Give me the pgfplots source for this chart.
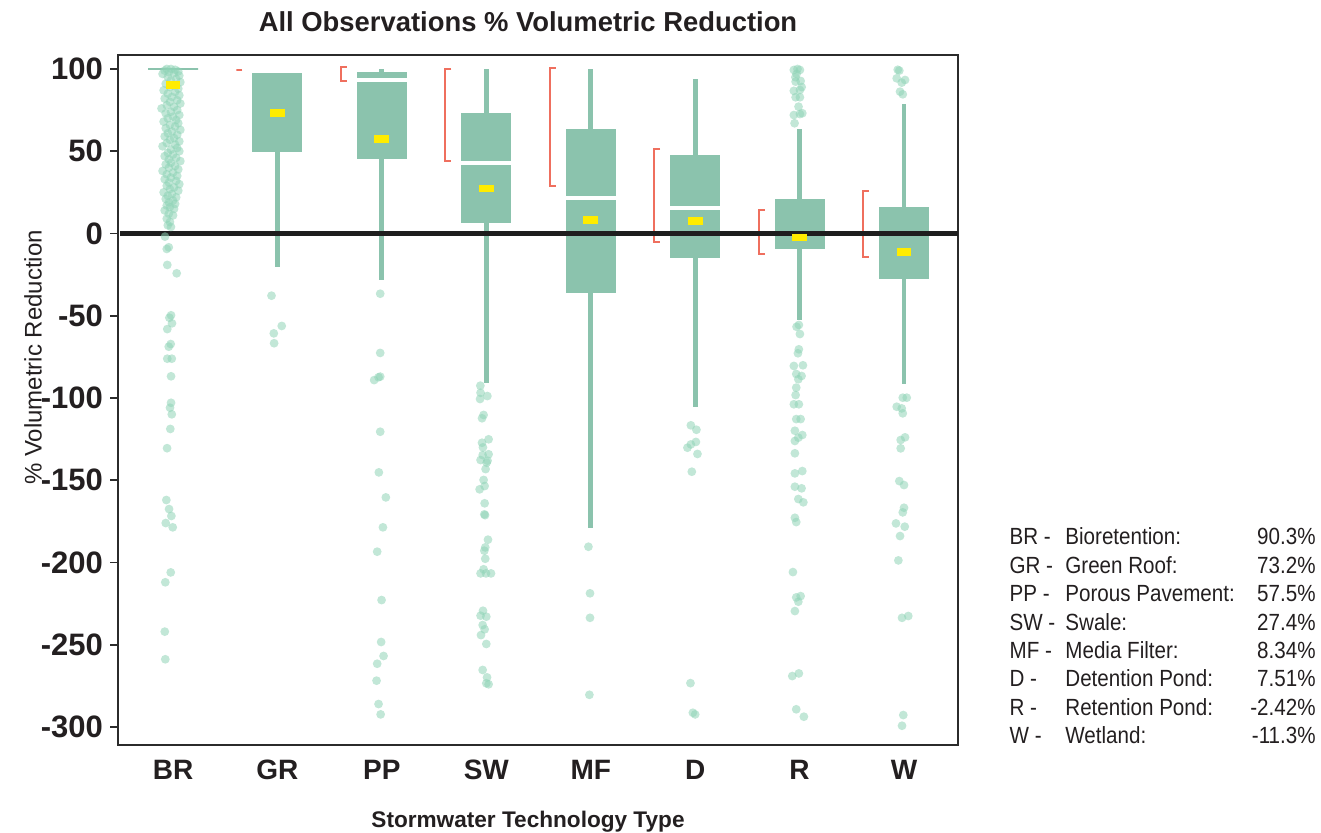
\documentclass[border=0pt]{standalone}
\usepackage{pgfplots}
\pgfplotsset{compat=1.18}
\usepgfplotslibrary{statistics}
\usepackage{fontspec}
\setmainfont{Liberation Sans}
\newfontfamily\condfont[FakeStretch=0.88]{Liberation Sans}
\definecolor{boxgreen}{HTML}{8BC3AD}
\definecolor{ptgreen}{HTML}{8FD3B6}
\definecolor{meanyellow}{HTML}{FFEC00}
\definecolor{cired}{HTML}{EF6F5E}
\definecolor{axisgray}{HTML}{2B2B2B}
\definecolor{zeroline}{HTML}{1E1E1E}
\definecolor{txt}{HTML}{231F20}
\pgfplotsset{
  boxplot/draw direction=y,
  boxplot/every box/.style={draw=none, fill=boxgreen},
  boxplot/every whisker/.style={draw=boxgreen, line width=2.4pt},
  boxplot/every median/.style={draw=white, line width=2pt},
}
\begin{document}
\begin{tikzpicture}
\path[use as bounding box] (0pt,0pt) rectangle (660.5pt,416.5pt);
\begin{axis}[
  at={(59pt,44pt)}, anchor=south west,
  scale only axis, width=420pt, height=345pt,
  xmin=-0.527, xmax=7.517, ymin=-310.9, ymax=108.5,
  axis line style={draw=axisgray, line width=0.8pt},
  xtick={0,1,2,3,4,5,6,7},
  xticklabels={BR,GR,PP,SW,MF,D,R,W},
  x tick style={draw=none},
  ytick={100,50,0,-50,-100,-150,-200,-250,-300},
  yticklabels={100,50,0,-50,-100,-150,-200,-250,-300},
  y tick style={draw=axisgray, line width=0.8pt},
  tick align=outside, major tick length=4pt,
  ytick pos=left, xtick pos=bottom,
  xticklabel style={font=\fontsize{14}{16}\selectfont\bfseries, text=txt},
  yticklabel style={font=\fontsize{15.5}{17}\selectfont\bfseries, text=txt},
]
% boxes
\addplot[boxplot prepared={draw position=0, lower whisker=100, lower quartile=100, median=100, upper quartile=100, upper whisker=100, box extend=0.479, whisker extend=0, every box/.style={draw=boxgreen, line width=1.3pt}, every median/.style={draw=none}}] coordinates {};
\addplot[boxplot prepared={draw position=1, lower whisker=-20.2, lower quartile=49.7, median=97.6, upper quartile=97.6, upper whisker=97.6, box extend=0.479, whisker extend=0, every median/.style={draw=none}}] coordinates {};
\addplot[boxplot prepared={draw position=2, lower whisker=-28.3, lower quartile=45.5, median=93, upper quartile=98.2, upper whisker=100, box extend=0.479, whisker extend=0}] coordinates {};
\addplot[boxplot prepared={draw position=3, lower whisker=-91, lower quartile=6.6, median=42.9, upper quartile=73.2, upper whisker=100, box extend=0.479, whisker extend=0}] coordinates {};
\addplot[boxplot prepared={draw position=4, lower whisker=-178.8, lower quartile=-36, median=21.4, upper quartile=63.5, upper whisker=100, box extend=0.479, whisker extend=0}] coordinates {};
\addplot[boxplot prepared={draw position=5, lower whisker=-105.7, lower quartile=-14.7, median=15.3, upper quartile=47.7, upper whisker=94.1, box extend=0.479, whisker extend=0}] coordinates {};
\addplot[boxplot prepared={draw position=6, lower whisker=-52.6, lower quartile=-9.4, median=0, upper quartile=21, upper whisker=63.5, box extend=0.479, whisker extend=0}] coordinates {};
\addplot[boxplot prepared={draw position=7, lower whisker=-91.5, lower quartile=-27.5, median=0, upper quartile=16.1, upper whisker=78.5, box extend=0.479, whisker extend=0}] coordinates {};
% confidence brackets
\addplot[cired, line width=1pt, mark=none] coordinates {(0.665,99.6)(0.607,99.6)(0.607,99.6)(0.665,99.6)};
\addplot[cired, line width=1pt, mark=none] coordinates {(1.665,101.2)(1.607,101.2)(1.607,92.9)(1.665,92.9)};
\addplot[cired, line width=1pt, mark=none] coordinates {(2.665,99.8)(2.607,99.8)(2.607,43.9)(2.665,43.9)};
\addplot[cired, line width=1pt, mark=none] coordinates {(3.665,100.4)(3.607,100.4)(3.607,28.9)(3.665,28.9)};
\addplot[cired, line width=1pt, mark=none] coordinates {(4.665,51.6)(4.607,51.6)(4.607,-5.0)(4.665,-5.0)};
\addplot[cired, line width=1pt, mark=none] coordinates {(5.665,14.3)(5.607,14.3)(5.607,-12.6)(5.665,-12.6)};
\addplot[cired, line width=1pt, mark=none] coordinates {(6.665,25.8)(6.607,25.8)(6.607,-14.1)(6.665,-14.1)};
% observations
\addplot[only marks, mark=*, mark size=2.2pt, color=ptgreen, mark options={fill=ptgreen, fill opacity=0.55, draw opacity=0}] coordinates {
(-0.06,100)(-0.02,100)(0.02,99.5)(-0.08,99)(0.05,98.5)(-0.04,98)(0.01,97.5)(-0.10,97)(0.06,96)(-0.05,95)(0.03,94)(-0.02,93)(0.07,92)(-0.07,91)(0.00,90)(-0.03,89)(0.05,88)(-0.09,87)(0.02,86)(-0.05,85)(0.06,84)(-0.01,83)(-0.08,82)(0.04,81)(-0.03,80)(0.07,79)(-0.06,78)(0.01,77)(-0.11,76)(0.04,75)(-0.02,74)(-0.07,73)(0.06,72)(0.00,71)(-0.05,70)(0.03,69)(-0.09,68)(0.05,67)(-0.03,66)(0.02,65)(-0.07,64)(0.07,63)(-0.01,62)(-0.05,61)(0.04,60)(-0.08,59)(0.01,58)(-0.03,57)(0.06,56)(-0.06,55)(0.02,54)(-0.10,53)(0.04,52)(-0.02,51)(0.06,50)(-0.05,49)(0.00,48)(-0.08,47)(0.03,46)(-0.04,45)(0.07,44)(-0.02,43)(-0.07,42)(0.02,41)(-0.04,40)(0.05,39)(-0.10,38)(0.00,37)(-0.06,36)(0.04,35)(-0.02,34)(-0.08,33)(0.03,32)(-0.04,31)(0.06,30)(-0.06,29)(0.01,28)(-0.03,27)(0.05,26)(-0.09,25)(-0.01,24)(-0.05,23)(0.03,22)(-0.07,21)(0.00,20)(-0.04,19)(0.02,18)(-0.06,17)(-0.03,16)(0.01,15)(-0.08,14)(-0.04,12)(0.00,11)(-0.06,9)(-0.03,7)(-0.05,5)(-0.02,4)
(-0.077,-1.9)(-0.060,-9.4)(-0.041,-8.4)(-0.055,-19.1)(0.035,-24.2)(-0.019,-49.7)(-0.035,-51.2)(-0.010,-54.6)(-0.055,-58.1)(-0.022,-67.2)(-0.041,-68.8)(-0.055,-76.1)(-0.012,-76.1)(-0.019,-86.8)(-0.019,-102.9)(-0.029,-105.9)(-0.012,-109.9)(-0.026,-118.8)(-0.057,-130.5)(-0.064,-162)(-0.038,-167.5)(-0.016,-171.7)(-0.070,-176)(-0.003,-178.6)(-0.022,-206)(-0.074,-212)(-0.079,-242)(-0.074,-258.8)
(0.943,-37.8)(1.041,-56.2)(0.965,-60.7)(0.968,-66.7)
(1.984,-36.6)(1.984,-72.6)(1.984,-87)(1.926,-89.1)(1.968,-87.4)(1.984,-120.5)(1.971,-145.2)(2.038,-160.4)(2.010,-178.6)(1.955,-193.4)(1.997,-222.8)(1.993,-248.3)(2.016,-256.8)(1.955,-261.5)(1.949,-271.8)(1.968,-286)(1.988,-292.3)
(2.943,-92.5)(2.945,-96.8)(3.010,-98.8)(2.940,-100.6)(2.974,-110.3)(2.959,-112.3)(3.022,-125.1)(2.959,-127.2)(2.968,-130)(3.022,-134.2)(2.965,-134.7)(2.945,-137.7)(3.012,-138.1)(3.003,-139.3)(2.993,-143.2)(2.974,-149.8)(2.984,-153.5)(2.936,-155.5)(2.984,-164)(2.981,-170.7)(2.988,-171.2)(3.016,-186.1)(2.990,-190.8)(2.981,-192.8)(2.990,-197.7)(2.974,-204.1)(2.945,-206.6)(2.997,-206.6)(3.045,-206.6)(2.968,-229.3)(2.945,-232.3)(3.000,-232.9)(2.965,-238)(2.984,-240.6)(2.949,-244.1)(3.000,-249.5)(2.965,-265.3)(3.007,-269.8)(3.000,-273.4)(3.022,-274)
(3.978,-190.4)(3.993,-218.7)(3.993,-233.6)(3.987,-280.4)
(4.959,-116.6)(5.012,-119.3)(4.926,-130.2)(4.959,-128.2)(5.007,-126.7)(5.022,-134)(4.968,-144.8)(4.955,-273.3)(4.978,-291.3)(5.000,-292.3)
(5.945,99.4)(6.003,99.4)(5.980,100)(5.971,97)(5.962,92.3)(6.010,92.7)(5.960,95)(5.945,86.7)(6.003,87.2)(6.020,89)(5.962,82.8)(6.003,82.8)(5.990,77.1)(5.945,72)(6.003,72.6)(6.026,73.1)(5.952,67)
(5.993,-55.6)(5.971,-56.7)(6.003,-61.1)(5.993,-70.4)(5.984,-72.8)(5.945,-80.5)(6.032,-80.1)(5.968,-85.4)(6.019,-86.6)(5.988,-88.6)(5.968,-93.7)(5.962,-98.2)(5.945,-103.8)(5.993,-103.8)(5.968,-112.8)(6.010,-112.8)(5.955,-119.9)(6.026,-122.5)(5.988,-124.1)(5.955,-126.1)(5.955,-133.6)(5.955,-145.8)(6.026,-144.4)(5.955,-153.9)(6.019,-154.9)(5.988,-161.4)(6.036,-163.4)(5.955,-172.8)(5.968,-175.4)(5.936,-205.8)(5.968,-221.2)(6.010,-220.4)(5.988,-223.8)(5.955,-229.5)(5.930,-269)(5.993,-267.4)(5.968,-289.2)(6.041,-293.7)
(6.955,99)(6.940,99.5)(6.930,94.3)(7.010,93.3)(6.978,91.7)(6.962,86.2)(6.988,84.6)
(6.988,-99.8)(7.026,-99.8)(6.930,-105.3)(6.978,-106.3)(6.988,-109.3)(7.010,-123.9)(6.968,-125.5)(6.968,-130.6)(6.955,-150.5)(7.000,-152.9)(7.000,-166.7)(6.988,-169.5)(6.923,-176.2)(7.007,-178.2)(6.962,-183.9)(6.946,-198.7)(6.981,-233.6)(7.041,-232.5)(6.993,-292.7)(6.981,-299.2)
};
% zero line
\addplot[zeroline, line width=2.1pt, mark=none] coordinates {(-0.51,0)(7.517,0)};
% means
\addplot[only marks, mark=square*, mark size=1.9pt, color=meanyellow, mark options={xscale=1.95, fill=meanyellow, draw opacity=0}] coordinates {(0,90.3)(1,73.2)(2,57.5)(3,27.4)(4,8.34)(5,7.51)(6,-2.42)(7,-11.3)};
\end{axis}
% titles
\node[anchor=base, text=txt, font=\fontsize{13.7}{16}\selectfont\bfseries] at (264pt,400.5pt) {All Observations \% Volumetric Reduction};
\node[anchor=base, text=txt, font=\fontsize{11.3}{14}\selectfont\bfseries] at (264pt,2.5pt) {Stormwater Technology Type};
\node[rotate=90, text=txt, font=\fontsize{12}{14}\selectfont] at (16.5pt,237.75pt) {\% Volumetric Reduction};
% legend
\begin{scope}[every node/.style={text=txt, font=\fontsize{11.7}{14}\condfont, inner sep=0pt}]
\foreach \ab/\nm/\va [count=\i from 0] in {BR -/Bioretention:/90.3\%, GR -/Green Roof:/73.2\%, PP -/Porous Pavement:/57.5\%, SW -/Swale:/27.4\%, MF -/Media Filter:/8.34\%, D -/Detention Pond:/7.51\%, R -/Retention Pond:/-2.42\%, W -/Wetland:/-11.3\%}{
  \node[anchor=base west] at (504.6pt,{144pt-\i*14.17pt}) {\ab};
  \node[anchor=base west] at (532.5pt,{144pt-\i*14.17pt}) {\nm};
  \node[anchor=base east] at (658pt,{144pt-\i*14.17pt}) {\va};
}
\end{scope}
\end{tikzpicture}
\end{document}
